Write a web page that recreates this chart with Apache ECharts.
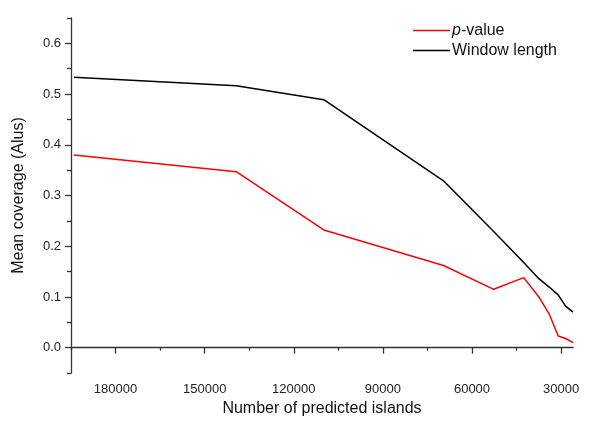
<!DOCTYPE html>
<html>
<head>
<meta charset="utf-8">
<script src="https://cdn.jsdelivr.net/npm/echarts@6/dist/echarts.min.js"></script>
<style>html,body{margin:0;padding:0;background:#fff}#c{width:600px;height:426px}</style>
</head>
<body>
<div id="c"></div>
<script>
// Number of predicted islands (x), shared by both series
const islands = [194000, 139400, 109900, 69600, 52700, 42600, 37500, 33900, 31000, 28500, 26000];
const pValue = [0.380, 0.347, 0.232, 0.162, 0.115, 0.138, 0.100, 0.065, 0.023, 0.018, 0.010];
const windowLength = [0.533, 0.5165, 0.489, 0.329, 0.229, 0.168, 0.136, 0.119, 0.104, 0.082, 0.070];
const xTicks = [30000, 60000, 90000, 120000, 150000, 180000];
const xMinorTicks = [45000, 75000, 105000, 135000, 165000, 195000];
const yTicks = [0.0, 0.1, 0.2, 0.3, 0.4, 0.5, 0.6];
const yMinorTicks = [-0.05, 0.05, 0.15, 0.25, 0.35, 0.45, 0.55, 0.65];
const seriesNames = ['p-value', 'Window length'];

const FONT = 'Liberation Sans, Arial, Helvetica, sans-serif';
const chart = echarts.init(document.getElementById('c'), null, {renderer: 'canvas'});
const axisLineStyle = {color: '#333', width: 1.3};
const xRange = {min: 26000, max: 195000, inverse: true};
const yRange = {min: -0.05, max: 0.65};

chart.setOption({
  animation: false,
  backgroundColor: '#fff',
  grid: {left: 71, right: 27, top: 18, bottom: 53, containLabel: false},
  legend: {
    orient: 'vertical', left: 413, top: 22, padding: 0,
    icon: 'rect', itemWidth: 37, itemHeight: 1.5, itemGap: 3,
    data: seriesNames,
    formatter: n => n === 'p-value' ? '{i|p}-value' : n,
    textStyle: {fontFamily: FONT, fontSize: 16, color: '#111', padding: [0, 0, 0, -3], lineHeight: 17,
      rich: {i: {fontFamily: FONT, fontSize: 16, fontStyle: 'italic', color: '#111', lineHeight: 17}}}
  },
  xAxis: [{
    type: 'value', ...xRange,
    name: 'Number of predicted islands', nameLocation: 'middle', nameGap: 27,
    nameTextStyle: {fontFamily: FONT, fontSize: 16, color: '#111'},
    axisLine: {show: true, lineStyle: axisLineStyle},
    axisTick: {show: true, length: 6, lineStyle: axisLineStyle, customValues: xTicks},
    axisLabel: {fontFamily: FONT, fontSize: 13, color: '#222', margin: 10, customValues: xTicks, formatter: v => String(v)},
    splitLine: {show: false}
  }, {
    type: 'value', ...xRange, position: 'bottom',
    axisLine: {show: false},
    axisTick: {show: true, length: 3, lineStyle: axisLineStyle, customValues: xMinorTicks},
    axisLabel: {show: false},
    splitLine: {show: false}
  }],
  yAxis: [{
    type: 'value', ...yRange,
    name: 'Mean coverage (Alus)', nameLocation: 'middle', nameGap: 44,
    nameTextStyle: {fontFamily: FONT, fontSize: 16, color: '#111'},
    axisLine: {show: true, lineStyle: axisLineStyle},
    axisTick: {show: true, length: 6, lineStyle: axisLineStyle, customValues: yTicks},
    axisLabel: {fontFamily: FONT, fontSize: 13, color: '#222', margin: 10, customValues: yTicks, formatter: v => v.toFixed(1)},
    splitLine: {show: false}
  }, {
    type: 'value', ...yRange, position: 'left',
    axisLine: {show: false},
    axisTick: {show: true, length: 4, lineStyle: axisLineStyle, customValues: yMinorTicks},
    axisLabel: {show: false},
    splitLine: {show: false}
  }],
  series: [{
    name: seriesNames[0], type: 'line', symbol: 'none', xAxisIndex: 0, yAxisIndex: 0,
    lineStyle: {color: '#ff0000', width: 1.5}, itemStyle: {color: '#ff0000'},
    data: islands.map((x, i) => [x, pValue[i]])
  }, {
    name: seriesNames[1], type: 'line', symbol: 'none', xAxisIndex: 0, yAxisIndex: 0,
    lineStyle: {color: '#000000', width: 1.5}, itemStyle: {color: '#000000'},
    data: islands.map((x, i) => [x, windowLength[i]])
  }]
});
</script>
</body>
</html>
